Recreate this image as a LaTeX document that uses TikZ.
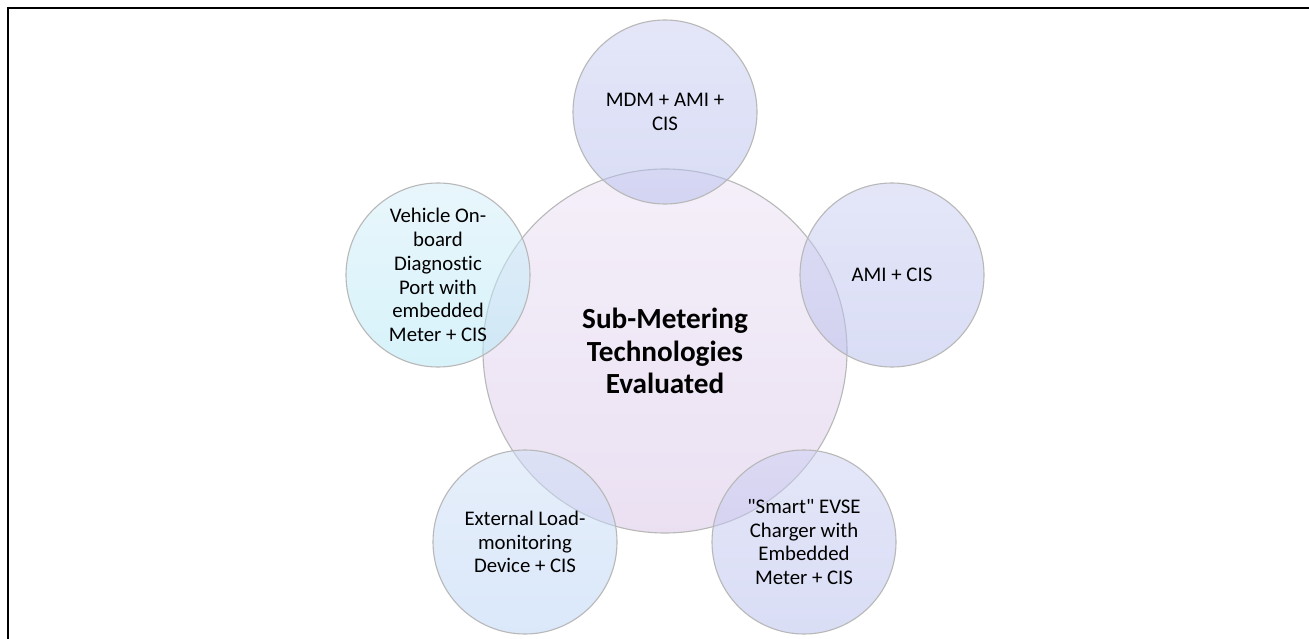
\documentclass[tikz,border=0pt]{standalone}
\usepackage{fontspec}
\setmainfont{Carlito}[Ligatures={TeXOff,NoCommon}]
\begin{document}
\begin{tikzpicture}[x=1pt,y=-1pt,
  venn/.style={circle, inner sep=0pt, draw=black!28, line width=1.1pt,
    fill opacity=0.5, text opacity=1, align=center, text=black,
    font=\fontsize{20.8}{23.8}\selectfont},
  hubstyle/.style={venn, minimum size=364pt,
    font=\fontsize{29.2}{32.5}\selectfont\bfseries},
  sat/.style={venn, minimum size=184pt}
]
\definecolor{hubTop}{RGB}{235,225,245}
\definecolor{hubBot}{RGB}{215,195,231}
\definecolor{lavTop}{RGB}{203,207,243}
\definecolor{lavBot}{RGB}{181,189,237}
\definecolor{cyanTop}{RGB}{211,239,250}
\definecolor{cyanBot}{RGB}{177,231,246}
\definecolor{blueTop}{RGB}{207,223,247}
\definecolor{blueBot}{RGB}{183,211,246}
\useasboundingbox (0,0) rectangle (1309,639);
\fill[white] (0,0) rectangle (1309,639);

% open frame: top and left rules
\draw[line width=2.6pt, black] (6.7,8) -- (1309,8);
\draw[line width=2.6pt, black] (8,6.7) -- (8,639);

% central circle
\node[hubstyle, top color=hubTop, bottom color=hubBot] (hub) at (665,351)
  {Sub-Metering\\Technologies\\Evaluated};

% satellites on a regular pentagon around the hub
\node[sat, top color=lavTop, bottom color=lavBot] (mdm) at (665,112)
  {MDM + AMI +\\CIS};
\node[sat, top color=lavTop, bottom color=lavBot] (ami) at (892,275)
  {AMI + CIS};
\node[sat, top color=lavTop, bottom color=lavBot] (evse) at (804,542)
  {"Smart" EVSE\\Charger with\\Embedded\\Meter + CIS};
\node[sat, top color=blueTop, bottom color=blueBot] (load) at (525,542)
  {External Load-\\monitoring\\Device + CIS};
\node[sat, top color=cyanTop, bottom color=cyanBot] (obd) at (438,275)
  {Vehicle On-\\board\\Diagnostic\\Port with\\embedded\\Meter + CIS};
\end{tikzpicture}
\end{document}
